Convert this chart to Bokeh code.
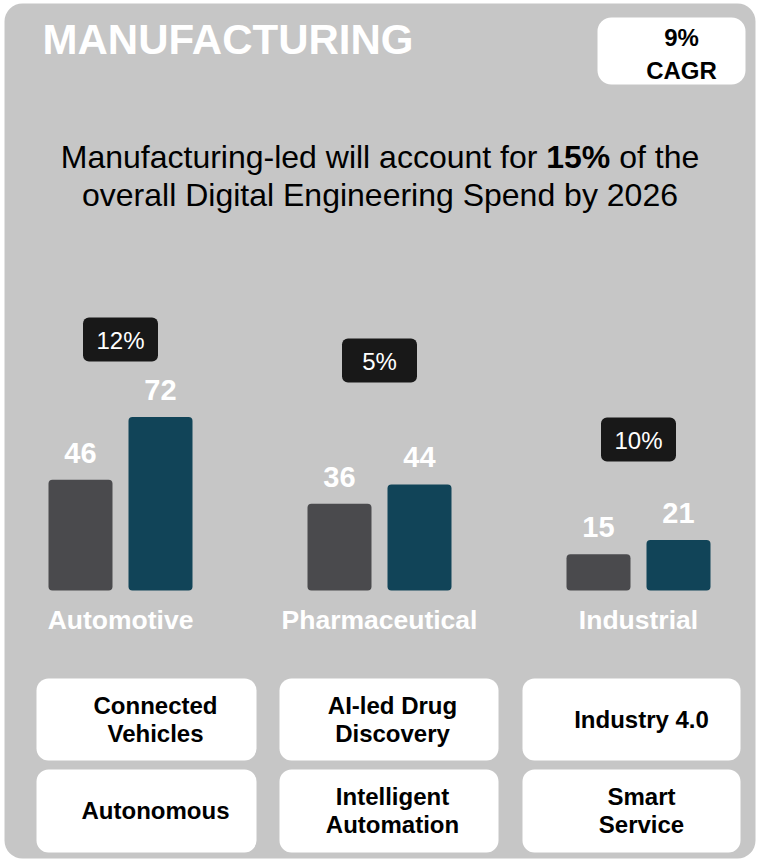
from bokeh.plotting import figure
from bokeh.models import FactorRange, Range1d
from bokeh.core.properties import value
from bokeh.embed import file_html
from bokeh.resources import INLINE

# ---------------- data ----------------
categories = ["Automotive", "Pharmaceutical", "Industrial"]
series = ["Current", "2026"]
values_current = [46, 36, 15]
values_2026 = [72, 44, 21]
segment_cagr = ["12%", "5%", "10%"]
overall_cagr = "9%"
title_text = "MANUFACTURING"
sub_line1 = ["Manufacturing-led will account for", "15%", "of the"]
sub_line2 = "overall Digital Engineering Spend by 2026"
tiles_row1 = [["Connected", "Vehicles"], ["AI-led Drug", "Discovery"], ["Industry 4.0"]]
tiles_row2 = [["Autonomous"], ["Intelligent", "Automation"], ["Smart", "Service"]]

# ---------------- style ----------------
FONT = value("Liberation Sans")
PANEL = "#c6c6c6"
GREY = "#4a4a4d"
TEAL = "#114458"
BADGE = "#181818"
W, H = 758, 863
UNIT = 80.0      # px per factor
PAD = 0.5        # range padding (factor units)
BASE = 590       # pixel row of the bars' baseline
K = 2.41         # px per value unit

def X(px):
    """pixel position -> synthetic categorical coordinate"""
    return px / UNIT - PAD

def B(baseline, size):
    """desired alphabetic baseline -> y for the svg text renderer"""
    return baseline - 0.37 * size

factors = [(c, s) for c in categories for s in series]
vals = []
for a, b in zip(values_current, values_2026):
    vals += [a, b]
colors = [GREY, TEAL] * len(categories)

p = figure(width=W, height=H,
           x_range=FactorRange(*factors, group_padding=1.2375, range_padding=PAD,
                               range_padding_units="absolute"),
           y_range=Range1d(-(H - BASE) / K, BASE / K),
           output_backend="svg", toolbar_location=None,
           x_axis_location=None, y_axis_location=None,
           min_border=0, outline_line_color=None,
           background_fill_color="white", border_fill_color="white")
p.grid.visible = False
p.extra_y_ranges = {"px": Range1d(H, 0)}

PX = dict(y_range_name="px")
TXT = dict(text_font=FONT, text_baseline="alphabetic")

# panel
p.quad(left=[X(4)], right=[X(755)], top=[3], bottom=[858], fill_color=PANEL,
       line_color=None, border_radius=18, **PX)

# title
p.text(x=[X(42)], y=[B(55, 42)], text=[title_text], text_font_style="bold",
       text_font_size="42px", text_color="white", text_align="left", **TXT, **PX)

# overall CAGR box
p.quad(left=[X(597)], right=[X(745)], top=[17], bottom=[84], fill_color="white",
       line_color=None, border_radius=14, **PX)
p.text(x=[X(681), X(681)], y=[B(46, 24), B(79, 24)], text=[overall_cagr, "CAGR"],
       text_font_style="bold", text_font_size="24px", text_color="black",
       text_align="center", **TXT, **PX)

# subtitle (line 1 with bold part)
p.text(x=[X(60.25), X(618.7)], y=[B(168, 32)] * 2, text=[sub_line1[0], sub_line1[2]],
       text_font_size="32px", text_color="black", text_align="left", **TXT, **PX)
p.text(x=[X(545.75)], y=[B(168, 32)], text=[sub_line1[1]], text_font_style="bold",
       text_font_size="32px", text_color="black", text_align="left", **TXT, **PX)
p.text(x=[X(379.5)], y=[B(206, 32)], text=[sub_line2],
       text_font_size="32px", text_color="black", text_align="center", **TXT, **PX)

# bars
p.vbar(x=factors, top=vals, bottom=0, width=0.8, fill_color=colors, line_color=None,
       border_radius=4)
p.text(x=factors, y=vals, text=[str(v) for v in vals], y_offset=-27,
       text_font_style="bold", text_font_size="29px", text_color="white",
       text_align="center", **TXT)

# category labels
p.text(x=categories, y=[B(629, 26.5)] * len(categories), text=categories,
       text_font_style="bold", text_font_size="26.5px", text_color="white",
       text_align="center", **TXT, **PX)

# segment CAGR badges
badge_top = [317, 338, 417]
p.vbar(x=categories, width=0.9375, top=badge_top, bottom=[t + 44 for t in badge_top],
       fill_color=BADGE, line_color=None, border_radius=6, **PX)
p.text(x=categories, y=[B(t + 31.5, 24) for t in badge_top], text=segment_cagr,
       text_font_size="24px", text_color="white", text_align="center", **TXT, **PX)

# bottom tiles
col_lr = [(36, 256), (279, 498), (522, 740)]
col_tx = [155, 392, 641]
rows = [(tiles_row1, 678, 760), (tiles_row2, 769, 852)]
for tiles, top, bot in rows:
    p.quad(left=[X(l) for l, r in col_lr], right=[X(r) for l, r in col_lr],
           top=[top] * 3, bottom=[bot] * 3, fill_color="white", line_color=None,
           border_radius=12, **PX)
    mid = (top + bot) / 2
    xs, ys, ts = [], [], []
    for cx, lines in zip(col_tx, tiles):
        if len(lines) == 1:
            xs.append(X(cx)); ys.append(B(mid + 8.5, 24)); ts.append(lines[0])
        else:
            xs += [X(cx), X(cx)]; ys += [B(mid - 5.5, 24), B(mid + 22.5, 24)]; ts += lines
    p.text(x=xs, y=ys, text=ts, text_font_style="bold", text_font_size="24px",
           text_color="black", text_align="center", **TXT, **PX)

open("out.html", "w").write(file_html(p, INLINE))
